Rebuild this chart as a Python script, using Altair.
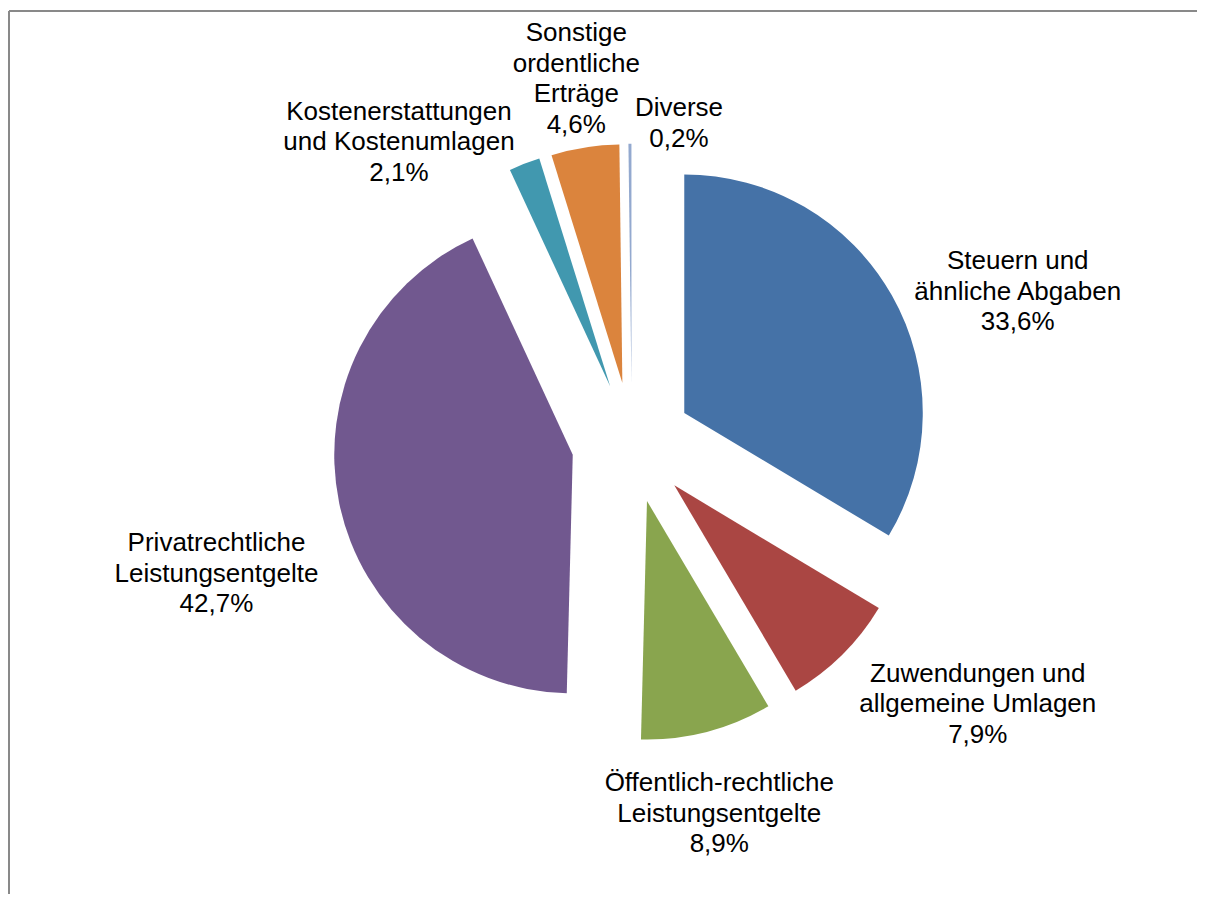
import math
import altair as alt
import pandas as pd

# ---- data ----
categories = [
    "Steuern und\nähnliche Abgaben",
    "Zuwendungen und\nallgemeine Umlagen",
    "Öffentlich-rechtliche\nLeistungsentgelte",
    "Privatrechtliche\nLeistungsentgelte",
    "Kostenerstattungen\nund Kostenumlagen",
    "Sonstige\nordentliche\nErträge",
    "Diverse",
]
shares = [33.6, 7.9, 8.9, 42.7, 2.1, 4.6, 0.2]
colors = ["#4572A7", "#AA4643", "#89A54E", "#71588F", "#4198AF", "#DB843D", "#93A9CF"]

# ---- layout (pixels) ----
W, H = 1189, 886
CX, CY = 623.8, 434.6        # pie centre
R = 238.5                    # pie radius
EXPLODE = 60.3               # explosion distance of every slice
LABEL_DIST = 388.8           # base label distance from pie centre
LINE_H = 30.5
# manual label nudges (collision avoidance, like Excel "best fit")
LABEL_NUDGE = [(47.6, 40.5), (71.9, -13.9), (-10.4, -5.0), (-34.6, 52.5),
               (-93.1, 62.4), (5.3, 20.3), (49.6, 69.7)]

total = sum(shares)
rows = []
cum = 0.0
for i, (name, v) in enumerate(zip(categories, shares)):
    t0 = 2 * math.pi * cum / total
    cum += v
    t1 = 2 * math.pi * cum / total
    mid = (t0 + t1) / 2
    pct = f"{v:.1f}".replace(".", ",") + "%"
    label = name + "\n" + pct
    n_lines = label.count("\n") + 1
    rows.append({
        "category": name,
        "share": v,
        "t0": t0,
        "t1": t1,
        "cx": CX + EXPLODE * math.sin(mid),
        "cy": CY - EXPLODE * math.cos(mid),
        "lx": CX + LABEL_DIST * math.sin(mid) + LABEL_NUDGE[i][0],
        # Vega puts the first line on y: shift so the whole block is centred
        "ly": CY - LABEL_DIST * math.cos(mid) + LABEL_NUDGE[i][1] - (n_lines - 1) / 2 * LINE_H,
        "label": label,
    })
df = pd.DataFrame(rows)

base = alt.Chart(df)

slices = base.mark_arc(outerRadius=R, innerRadius=0, strokeWidth=0).encode(
    x=alt.X("cx:Q", scale=None, axis=None),
    y=alt.Y("cy:Q", scale=None, axis=None),
    theta=alt.Theta("t0:Q", scale=None),
    theta2="t1:Q",
    color=alt.Color("category:N", scale=alt.Scale(domain=categories, range=colors), legend=None),
)

labels = base.mark_text(
    align="center", baseline="middle", lineBreak="\n",
    font="Liberation Sans", fontSize=26, lineHeight=LINE_H, color="#000000",
).encode(
    x=alt.X("lx:Q", scale=None, axis=None),
    y=alt.Y("ly:Q", scale=None, axis=None),
    text="label:N",
)

frame_df = pd.DataFrame({"k": [0]})
left_rule = alt.Chart(frame_df).mark_rule(color="#898989", strokeWidth=2).encode(
    x=alt.value(1), y=alt.value(3), y2=alt.value(H)
)
top_rule = alt.Chart(frame_df).mark_rule(color="#898989", strokeWidth=2).encode(
    x=alt.value(1), x2=alt.value(W), y=alt.value(3)
)

chart = alt.layer(left_rule, top_rule, slices, labels).properties(
    width=W, height=H,
    autosize=alt.AutoSizeParams(type="none"),
    padding=0,
    background="#ffffff",
).configure_view(strokeWidth=0)

chart.save("out.html", embed_options={"renderer": "svg", "actions": False})
